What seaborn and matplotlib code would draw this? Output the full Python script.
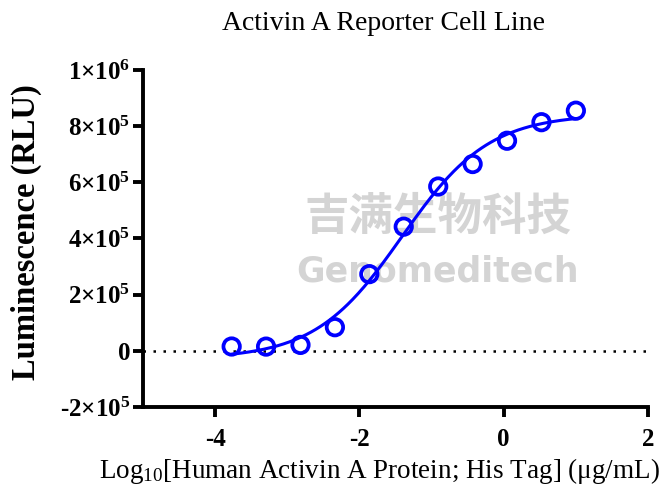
import numpy as np
import pandas as pd
import matplotlib
matplotlib.use("Agg")
import matplotlib.pyplot as plt
import seaborn as sns
from matplotlib.ticker import FuncFormatter

# ---- data ----
log_conc = [1.0, 0.523, 0.046, -0.431, -0.908, -1.386, -1.863, -2.340, -2.817, -3.294, -3.771]
rlu = [855000, 814000, 748000, 665000, 585000, 442000, 273000, 84000, 21000, 15000, 15300]
x_ticks = [-4, -2, 0, 2]
y_ticks = [-200000, 0, 200000, 400000, 600000, 800000, 1000000]
title = "Activin A Reporter Cell Line"
x_label = r"Log$_{\mathregular{10}}$[Human Activin A Protein; His Tag] (μg/mL)"
y_label = "Luminescence (RLU)"
wm_cn = "吉满生物科技"
wm_en = "Genomeditech"

df = pd.DataFrame({"x": log_conc, "y": rlu})

# 4PL fit (grid over EC50/hill, linear LS for bottom/top)
xs = np.array(log_conc); ys = np.array(rlu, dtype=float)
best = None
for ec in np.linspace(-2.5, -0.5, 201):
    for h in np.linspace(0.3, 2.0, 171):
        f = 1.0 / (1.0 + 10 ** ((ec - xs) * h))
        A = np.vstack([1 - f, f]).T
        coef, *_ = np.linalg.lstsq(A, ys, rcond=None)
        r = np.sum((A @ coef - ys) ** 2)
        if best is None or r < best[0]:
            best = (r, ec, h, coef)
_, ec, h, (bot, top) = best
xf = np.linspace(min(log_conc), max(log_conc), 300)
yf = bot + (top - bot) / (1.0 + 10 ** ((ec - xf) * h))
fit = pd.DataFrame({"x": xf, "y": yf})

sns.set_style("ticks", rc={"text.color": "black", "axes.labelcolor": "black",
                           "xtick.color": "black", "ytick.color": "black",
                           "axes.edgecolor": "black"})
plt.rcParams["font.family"] = ["Liberation Serif", "DejaVu Serif"]
plt.rcParams["mathtext.fontset"] = "custom"
plt.rcParams["mathtext.rm"] = "Liberation Serif"
plt.rcParams["mathtext.bf"] = "Liberation Serif:bold"
plt.rcParams["mathtext.it"] = "Liberation Serif:italic"
plt.rcParams["axes.unicode_minus"] = False

fig = plt.figure(figsize=(6.66, 4.92), dpi=100)
ax = fig.add_axes([0.2147, 0.1728, 0.7583, 0.685])
ax.patch.set_alpha(0)

blue = "#0000FF"
# watermark (behind the data)
ax.text(0.657, 0.560, wm_cn, transform=fig.transFigure, fontsize=32, color="#d4d4d4",
        ha="center", va="center", family=["Noto Sans CJK SC"], weight="bold", zorder=0.5)
ax.text(0.657, 0.448, wm_en, transform=fig.transFigure, fontsize=25, color="#d4d4d4",
        ha="center", va="center", family=["DejaVu Sans"], weight="bold", zorder=0.5)

ax.axhline(0, color="black", ls=(0, (1, 3)), lw=1.8, zorder=1)
sns.lineplot(data=fit, x="x", y="y", ax=ax, color=blue, lw=2.2, zorder=2)
sns.scatterplot(data=df, x="x", y="y", ax=ax, marker="o", s=140, facecolor="none",
                edgecolor=blue, linewidth=2.7, zorder=3)

ax.set_xlim(-5, 2)
ax.set_ylim(-200000, 1000000)
ax.set_xticks(x_ticks)
ax.set_yticks(y_ticks)

def yfmt(v, pos):
    if v == 0:
        return "0"
    e = int(np.floor(np.log10(abs(v))))
    m = int(round(abs(v) / 10 ** e))
    sign = "-" if v < 0 else ""
    return sign + r"$\mathbf{%d{\times}10^{%d}}$" % (m, e)

ax.yaxis.set_major_formatter(FuncFormatter(yfmt))
ax.xaxis.set_major_formatter(FuncFormatter(lambda v, p: "%d" % v))

ax.tick_params(axis="both", which="major", length=7, width=2.8, labelsize=18, direction="out",
               colors="black")
ax.tick_params(axis="y", pad=2)
ax.tick_params(axis="x", pad=8)
for lab in ax.get_xticklabels() + ax.get_yticklabels():
    lab.set_fontweight("bold")
sns.despine(ax=ax)
for s in ["left", "bottom"]:
    ax.spines[s].set_linewidth(2.8)
    ax.spines[s].set_color("black")

ax.set_xlabel(x_label, fontsize=19.5, color="black")
ax.xaxis.set_label_coords(0.469, -0.146)
ax.set_ylabel(y_label, fontsize=23.5, fontweight="bold", color="black")
ax.yaxis.set_label_coords(-0.200, 0.52)
fig.text(0.576, 0.953, title, fontsize=20, ha="center", va="center", color="black")

fig.savefig("out.png", dpi=100)
